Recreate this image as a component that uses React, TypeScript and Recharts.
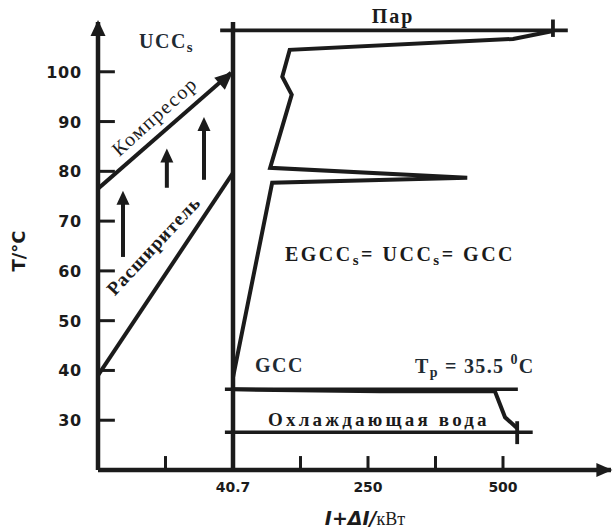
import { LineChart, Line, XAxis, YAxis, ReferenceLine, ReferenceDot } from 'recharts'

// x is in axis units: 0 = y axis, 2 = 40.7 kW, 4 = 250 kW, 6 = 500 kW
const xTicks = [0, 1, 2, 3, 4, 5, 6]
const xTickLabels = ['', '', '40.7', '', '250', '', '500']
const xTickMarks = [1, 3, 4, 5, 6]
const yTicks = [30, 40, 50, 60, 70, 80, 90, 100]

const compressor = [
  { x: 0, t: 76.5 },
  { x: 1.97, t: 99.8 },
]
const expander = [
  { x: 0, t: 39 },
  { x: 2, t: 79.7 },
]
const gcc = [
  { x: 2.0, t: 38.6 },
  { x: 2.58, t: 77.7 },
  { x: 5.47, t: 78.7 },
  { x: 2.55, t: 80.7 },
  { x: 2.87, t: 95.4 },
  { x: 2.73, t: 99.0 },
  { x: 2.84, t: 104.4 },
  { x: 6.15, t: 106.6 },
  { x: 6.74, t: 108.2 },
]
const steam = [
  { x: 1.81, t: 108.3 },
  { x: 6.96, t: 108.3 },
]
const processLine = [
  { x: 1.88, t: 36.2 },
  { x: 6.22, t: 36.2 },
]
const coolingCurve = [
  { x: 1.99, t: 36.2 },
  { x: 4.18, t: 35.8 },
  { x: 5.88, t: 35.8 },
  { x: 6.03, t: 30.6 },
  { x: 6.21, t: 28.4 },
]
const water = [
  { x: 1.88, t: 27.6 },
  { x: 6.44, t: 27.6 },
]
const pinchLine = [
  { x: 2, t: 20 },
  { x: 2, t: 110 },
]
// short end marks [x, tLow, tHigh]
const endMarks = [
  [6.74, 107, 110.5],
  [6.21, 25.2, 29.8],
]
// upward arrows [x, tFrom, tTo]
const upArrows = [
  [0.37, 62.8, 73.5],
  [1.02, 76.7, 82.0],
  [1.57, 78.3, 88.3],
]

const INK = '#1b1b1b'
const NAVY = '#1f2b33'
const SERIF = '"Liberation Serif", "Times New Roman", serif'
const SANS = '"DejaVu Sans", sans-serif'

function arrowHead(angle: number, len: number, half: number) {
  return (props: any) => {
    const { cx, cy } = props
    const pts = `${cx},${cy} ${cx - len},${cy - half} ${cx - len},${cy + half}`
    return <polygon points={pts} fill={INK} transform={`rotate(${angle} ${cx} ${cy})`} />
  }
}

function YTick(props: any) {
  const { x, y, payload } = props
  return (
    <text x={x} y={y} dy={6} textAnchor="end" fontFamily={SANS} fontWeight="bold" fontSize={16} letterSpacing={0.8} fill={INK}>
      {payload.value}
    </text>
  )
}

function XTick(props: any) {
  const { x, y, payload } = props
  const label = xTickLabels[xTicks.indexOf(payload.value)]
  return (
    <text x={x} y={y + 20} textAnchor="middle" fontFamily={SANS} fontWeight="bold" fontSize={14} fill={INK}>
      {label}
    </text>
  )
}

export default function App() {
  return (
    <div style={{ position: 'absolute', left: 0, top: 0, width: 615, height: 530, background: '#fff' }}>
      <LineChart width={615} height={530} margin={{ top: 22, right: 4, bottom: 0, left: 0 }}>
        <XAxis
          type="number"
          dataKey="x"
          domain={[0, 7.6]}
          ticks={xTicks}
          interval={0}
          height={60}
          tickSize={0}
          tickLine={false}
          tick={<XTick />}
          axisLine={{ stroke: INK, strokeWidth: 4.5 }}
          allowDataOverflow
        />
        <YAxis
          type="number"
          dataKey="t"
          domain={[20, 110]}
          ticks={yTicks}
          interval={0}
          width={98}
          tickSize={0}
          tickMargin={16}
          tickLine={false}
          tick={<YTick />}
          axisLine={{ stroke: INK, strokeWidth: 4.5 }}
          allowDataOverflow
        />

        {yTicks.map((t) => (
          <ReferenceLine key={`yt${t}`} segment={[{ x: 0, y: t }, { x: 0.25, y: t }]} stroke={INK} strokeWidth={3} ifOverflow="visible" />
        ))}
        {xTickMarks.map((u) => (
          <ReferenceLine key={`xt${u}`} segment={[{ x: u, y: 20 }, { x: u, y: 22.8 }]} stroke={INK} strokeWidth={3} ifOverflow="visible" />
        ))}

        <Line data={pinchLine} dataKey="t" stroke={INK} strokeWidth={4.5} dot={false} isAnimationActive={false} />
        <Line data={steam} dataKey="t" stroke={INK} strokeWidth={3.8} dot={false} isAnimationActive={false} />
        <Line data={compressor} dataKey="t" stroke={INK} strokeWidth={4} dot={false} isAnimationActive={false} />
        <Line data={expander} dataKey="t" stroke={INK} strokeWidth={4} dot={false} isAnimationActive={false} />
        <Line data={gcc} dataKey="t" stroke={INK} strokeWidth={4} dot={false} isAnimationActive={false} strokeLinejoin="miter" />
        <Line data={processLine} dataKey="t" stroke={INK} strokeWidth={3.5} dot={false} isAnimationActive={false} />
        <Line data={coolingCurve} dataKey="t" stroke={INK} strokeWidth={4} dot={false} isAnimationActive={false} />
        <Line data={water} dataKey="t" stroke={INK} strokeWidth={3.5} dot={false} isAnimationActive={false} />

        {endMarks.map(([u, lo, hi], i) => (
          <ReferenceLine key={`em${i}`} segment={[{ x: u, y: lo }, { x: u, y: hi }]} stroke={INK} strokeWidth={3.8} ifOverflow="visible" />
        ))}
        {upArrows.map(([u, lo, hi], i) => (
          <ReferenceLine key={`ua${i}`} segment={[{ x: u, y: lo }, { x: u, y: hi }]} stroke={INK} strokeWidth={4} ifOverflow="visible" />
        ))}
        {upArrows.map(([u, , hi], i) => (
          <ReferenceDot key={`ah${i}`} x={u} y={hi + 2.6} r={1} ifOverflow="visible" shape={arrowHead(-90, 14, 6.5)} />
        ))}
        <ReferenceDot x={compressor[1].x + 0.03} y={compressor[1].t + 0.2} r={1} ifOverflow="visible" shape={arrowHead(-41.7, 18, 8)} />
        <ReferenceDot x={0} y={110.4} r={1} ifOverflow="visible" shape={arrowHead(-90, 16, 7.5)} />
        <ReferenceDot x={7.62} y={20} r={1} ifOverflow="visible" shape={arrowHead(0, 16, 7)} />

        <text x={20} y={251} transform="rotate(-90 20 251)" textAnchor="middle" dominantBaseline="middle" fontFamily={SANS} fontWeight="bold" fontSize={18} fill={INK}>
          T/°C
        </text>
        <text x={365} y={525} textAnchor="middle" fill={INK}>
          <tspan fontFamily={SANS} fontWeight="bold" fontStyle="italic" fontSize={19}>I+ΔI/</tspan>
          <tspan fontFamily={SERIF} fontSize={18}>кВт</tspan>
        </text>

        <text x={139} y={48} fontFamily={SERIF} fontWeight="bold" fontSize={20} letterSpacing={1.5} fill={NAVY}>
          UCC<tspan fontSize={15} dy={4}>s</tspan>
        </text>
        <text x={156} y={118} transform="rotate(-42 156 118)" textAnchor="middle" dominantBaseline="middle" fontFamily={SERIF} fontSize={20} letterSpacing={1.5} fill={INK}>
          Компресор
        </text>
        <text x={155} y={247} transform="rotate(-47 155 247)" textAnchor="middle" dominantBaseline="middle" fontFamily={SERIF} fontWeight="bold" fontSize={19} letterSpacing={1} fill={INK}>
          Расширитель
        </text>
        <text x={393} y={23} textAnchor="middle" fontFamily={SERIF} fontWeight="bold" fontSize={20} letterSpacing={2} fill={INK}>
          Пар
        </text>
        <text x={400} y={261} textAnchor="middle" fontFamily={SERIF} fontWeight="bold" fontSize={20} letterSpacing={2.5} fill={INK}>
          EGCC<tspan fontSize={15} dy={4}>s</tspan>
          <tspan dy={-4}>= UCC</tspan>
          <tspan fontSize={15} dy={4}>s</tspan>
          <tspan dy={-4}>= GCC</tspan>
        </text>
        <text x={255} y={372} fontFamily={SERIF} fontWeight="bold" fontSize={20} letterSpacing={1.5} fill={NAVY}>
          GCC
        </text>
        <text x={415} y={373} fontFamily={SERIF} fontWeight="bold" fontSize={20} letterSpacing={1.3} fill={NAVY}>
          T<tspan fontSize={14} dy={4}>p</tspan>
          <tspan dy={-4}> = 35.5 </tspan>
          <tspan fontSize={14} dy={-9}>0</tspan>
          <tspan dy={9}>C</tspan>
        </text>
        <text x={268} y={426} fontFamily={SERIF} fontWeight="bold" fontSize={19} letterSpacing={3.2} fill={INK}>
          Охлаждающая вода
        </text>
      </LineChart>
    </div>
  )
}
